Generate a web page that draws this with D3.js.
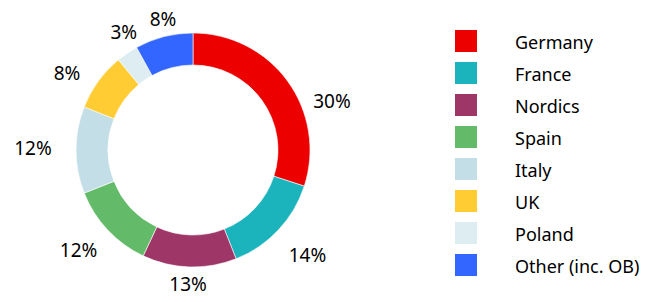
<!DOCTYPE html>
<html>
<head>
<meta charset="utf-8">
<script src="https://cdn.jsdelivr.net/npm/d3@7"></script>
<style>
  body { margin: 0; background: #fff; }
  svg { display: block; font-family: "Noto Sans", "Open Sans", sans-serif; }
</style>
</head>
<body>
<div class="visualization"></div>
<script>
const categories = ["Germany", "France", "Nordics", "Spain", "Italy", "UK", "Poland", "Other (inc. OB)"];
const shares = [30, 14, 13, 12, 12, 8, 3, 8];
const colors = ["#ec0000", "#1bb4bc", "#9e3667", "#63ba68", "#c3dee7", "#ffcc33", "#deedf2", "#3366ff"];

const width = 664, height = 302;
const cx = 193, cy = 150;
const outerR = 117, innerR = 85;
// labels sit on an ellipse round the ring, some were moved by hand in the original
const labelRx = 157, labelRy = 140;
const labelNudge = {
  "Germany": [12, 33], "France": [0, 9], "Nordics": [0, -6], "Spain": [0, 4],
  "Italy": [-3, -2], "UK": [1, 5], "Poland": [19, -2], "Other (inc. OB)": [9, 5]
};

const svg = d3.select(".visualization")
  .append("svg")
  .attr("width", width)
  .attr("height", height)
  .attr("viewBox", `0 0 ${width} ${height}`);

const pie = d3.pie().sort(null).value(d => d.value);
const arc = d3.arc().innerRadius(innerR).outerRadius(outerR);

const data = categories.map((c, i) => ({ name: c, value: shares[i], color: colors[i] }));
const arcs = pie(data);

const ring = svg.append("g").attr("transform", `translate(${cx}, ${cy})`);

ring.selectAll(".slice")
  .data(arcs)
  .enter().append("path")
  .attr("class", "slice")
  .attr("d", arc)
  .attr("fill", d => d.data.color)
  .attr("stroke", "#fff")
  .attr("stroke-width", 0.6);

ring.selectAll(".pct")
  .data(arcs)
  .enter().append("text")
  .attr("class", "pct")
  .attr("x", d => {
    let a = (d.startAngle + d.endAngle) / 2;
    let n = labelNudge[d.data.name] || [0, 0];
    return labelRx * Math.sin(a) + n[0];
  })
  .attr("y", d => {
    let a = (d.startAngle + d.endAngle) / 2;
    let n = labelNudge[d.data.name] || [0, 0];
    return -labelRy * Math.cos(a) + n[1];
  })
  .attr("dy", "0.36em")
  .attr("text-anchor", "middle")
  .attr("font-size", 19)
  .attr("fill", "#000")
  .text(d => d.data.value + "%");

const legendY = d3.scaleBand()
  .domain(categories)
  .range([25, 25 + 32 * categories.length]);

const legend = svg.append("g").attr("class", "legend");

legend.selectAll("rect")
  .data(data)
  .enter().append("rect")
  .attr("x", 455)
  .attr("y", d => legendY(d.name) + 5)
  .attr("width", 22)
  .attr("height", 22)
  .attr("fill", d => d.color);

legend.selectAll("text")
  .data(data)
  .enter().append("text")
  .attr("x", 515)
  .attr("y", d => legendY(d.name) + 17.5)
  .attr("dy", "0.36em")
  .attr("font-size", 18)
  .attr("fill", "#000")
  .text(d => d.name);
</script>
</body>
</html>
